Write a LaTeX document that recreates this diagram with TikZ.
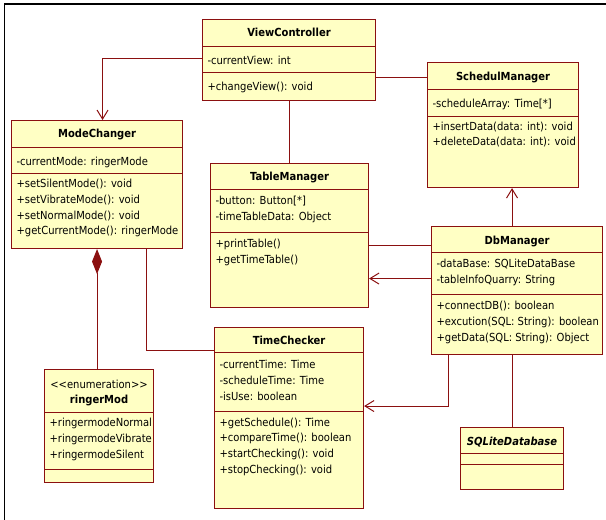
\documentclass[tikz,border=0pt]{standalone}
\usepackage{fontspec}
\setmainfont{DejaVu Sans Condensed}
\usepackage{xcolor}
\definecolor{classfill}{HTML}{FFFFC4}
\definecolor{classline}{HTML}{8B1010}
\usetikzlibrary{%
    calc,
    arrows.meta
}

\begin{document}
\begin{tikzpicture}[x=1pt, y=-1pt, line width=1.1pt,
    umlbox/.style={draw=classline, fill=classfill, rectangle, inner sep=0pt, anchor=north west},
    title/.style={font=\fontsize{11.1}{12}\selectfont\bfseries, anchor=base, inner sep=0pt},
    members/.style={font=\fontsize{11.1}{15.8}\selectfont, align=left, anchor=north west, inner sep=0pt, execute at begin node=\strut},
    assoc/.style={draw=classline, line width=1pt},
    navig/.style={assoc, -{Straight Barb[length=9pt, width=11pt]}},
    compose/.style={assoc, {Diamond[length=25pt, width=10pt]}-}
]
    \useasboundingbox (0, 0) rectangle (606, 520);
    % frame
    \draw [line width=1.5pt] (4.5, 520) -- (4.5, 4) -- (606, 4);

    % ViewController
    \node [umlbox, minimum width=173pt, minimum height=81pt] (ViewController) at (202, 19) {};
    \draw [assoc] ($ (ViewController.north west) + (0, 27) $) -- ++(173, 0);
    \draw [assoc] ($ (ViewController.north west) + (0, 53) $) -- ++(173, 0);
    \node [title] at ($ (ViewController.north) + (0, 17.6) $) {ViewController};
    \node [members] at ($ (ViewController.north west) + (5, 33.9) $) {-currentView: int};
    \node [members] at ($ (ViewController.north west) + (5, 59.9) $) {+changeView(): void};

    % SchedulManager
    \node [umlbox, minimum width=151pt, minimum height=125pt] (SchedulManager) at (427, 62) {};
    \draw [assoc] ($ (SchedulManager.north west) + (0, 27) $) -- ++(151, 0);
    \draw [assoc] ($ (SchedulManager.north west) + (0, 54) $) -- ++(151, 0);
    \node [title] at ($ (SchedulManager.north) + (0, 18.4) $) {SchedulManager};
    \node [members] at ($ (SchedulManager.north west) + (5, 33.6) $) {-scheduleArray: Time[*]};
    \node [members] at ($ (SchedulManager.north west) + (5, 59.2) $) {+insertData(data: int): void\\+deleteData(data: int): void};

    % ModeChanger
    \node [umlbox, minimum width=171pt, minimum height=128pt] (ModeChanger) at (11, 120) {};
    \draw [assoc] ($ (ModeChanger.north west) + (0, 27) $) -- ++(171, 0);
    \draw [assoc] ($ (ModeChanger.north west) + (0, 53) $) -- ++(171, 0);
    \node [title] at ($ (ModeChanger.north) + (0, 17.4) $) {ModeChanger};
    \node [members] at ($ (ModeChanger.north west) + (5, 33.6) $) {-currentMode: ringerMode};
    \node [members] at ($ (ModeChanger.north west) + (5, 58.6) $) {+setSilentMode(): void\\+setVibrateMode(): void\\+setNormalMode(): void\\+getCurrentMode(): ringerMode};

    % TableManager
    \node [umlbox, minimum width=158pt, minimum height=144pt] (TableManager) at (210, 163) {};
    \draw [assoc] ($ (TableManager.north west) + (0, 26) $) -- ++(158, 0);
    \draw [assoc] ($ (TableManager.north west) + (0, 69) $) -- ++(158, 0);
    \node [title] at ($ (TableManager.north) + (0, 17.1) $) {TableManager};
    \node [members] at ($ (TableManager.north west) + (5, 32.6) $) {-button: Button[*]\\-timeTableData: Object};
    \node [members] at ($ (TableManager.north west) + (5, 75.9) $) {+printTable()\\+getTimeTable()};

    % DbManager
    \node [umlbox, minimum width=171pt, minimum height=128pt] (DbManager) at (431, 226) {};
    \draw [assoc] ($ (DbManager.north west) + (0, 26) $) -- ++(171, 0);
    \draw [assoc] ($ (DbManager.north west) + (0, 68) $) -- ++(171, 0);
    \node [title] at ($ (DbManager.north) + (0, 18.1) $) {DbManager};
    \node [members] at ($ (DbManager.north west) + (5, 32.6) $) {-dataBase: SQLiteDataBase\\-tableInfoQuarry: String};
    \node [members] at ($ (DbManager.north west) + (5, 74.9) $) {+connectDB(): boolean\\+excution(SQL: String): boolean\\+getData(SQL: String): Object};

    % TimeChecker
    \node [umlbox, minimum width=149pt, minimum height=181pt] (TimeChecker) at (214, 327) {};
    \draw [assoc] ($ (TimeChecker.north west) + (0, 25) $) -- ++(149, 0);
    \draw [assoc] ($ (TimeChecker.north west) + (0, 84) $) -- ++(149, 0);
    \node [title] at ($ (TimeChecker.north) + (0, 17.8) $) {TimeChecker};
    \node [members] at ($ (TimeChecker.north west) + (5, 32.6) $) {-currentTime: Time\\-scheduleTime: Time\\-isUse: boolean};
    \node [members] at ($ (TimeChecker.north west) + (5, 90.2) $) {+getSchedule(): Time\\+compareTime(): boolean\\+startChecking(): void\\+stopChecking(): void};

    % ringerMod
    \node [umlbox, minimum width=109pt, minimum height=113pt] (ringerMod) at (44, 369) {};
    \draw [assoc] ($ (ringerMod.north west) + (0, 43) $) -- ++(109, 0);
    \draw [assoc] ($ (ringerMod.north west) + (0, 100) $) -- ++(109, 0);
    \node [title, font=\fontsize{11.1}{12}\selectfont] at ($ (ringerMod.north) + (0, 19.1) $) {<{}<enumeration>{}>};
    \node [title] at ($ (ringerMod.north) + (0, 34.4) $) {ringerMod};
    \node [members] at ($ (ringerMod.north west) + (5, 48.9) $) {+ringermodeNormal\\+ringermodeVibrate\\+ringermodeSilent};

    % SQLiteDatabase
    \node [umlbox, minimum width=103pt, minimum height=62pt] (SQLiteDatabase) at (460, 427) {};
    \draw [assoc] ($ (SQLiteDatabase.north west) + (0, 26) $) -- ++(103, 0);
    \draw [assoc] ($ (SQLiteDatabase.north west) + (0, 37) $) -- ++(103, 0);
    \node [title, font=\fontsize{11.1}{12}\selectfont\bfseries\itshape] at ($ (SQLiteDatabase.north) + (0, 18.8) $) {SQLiteDatabase};

    % connectors
    \coordinate (vcL) at ([yshift=2pt] ViewController.west);
    \coordinate (mcT) at ([xshift=5.5pt] ModeChanger.north);
    \draw [navig] (vcL) -| (mcT);
    \draw [compose] (ModeChanger.south) -- (ModeChanger.south |- ringerMod.north);
    \coordinate (mcB) at ([xshift=49pt] ModeChanger.south);
    \coordinate (tcL) at ([yshift=-23pt] TimeChecker.north west);
    \draw [assoc] (mcB) |- (tcL);
    \draw [assoc] (ViewController.south) -- (ViewController.south |- TableManager.north);
    \coordinate (vcR) at ([yshift=-17pt] ViewController.east);
    \draw [assoc] (vcR) -- (vcR -| SchedulManager.west);
    \coordinate (dbT) at ([xshift=-5pt] DbManager.north);
    \draw [navig] (dbT) -- (dbT |- SchedulManager.south);
    \coordinate (tmR) at ([yshift=-10pt] TableManager.east);
    \draw [assoc] (tmR -| DbManager.west) -- (tmR);
    \coordinate (tmA) at ([yshift=-43pt] TableManager.east);
    \draw [navig] (tmA -| DbManager.west) -- (tmA);
    \coordinate (dbB) at ([xshift=-69pt] DbManager.south);
    \coordinate (tcR) at ([yshift=12pt] TimeChecker.east);
    \draw [navig] (dbB) |- (tcR);
    \draw [assoc] (SQLiteDatabase.north |- DbManager.south) -- (SQLiteDatabase.north);
\end{tikzpicture}
\end{document}
